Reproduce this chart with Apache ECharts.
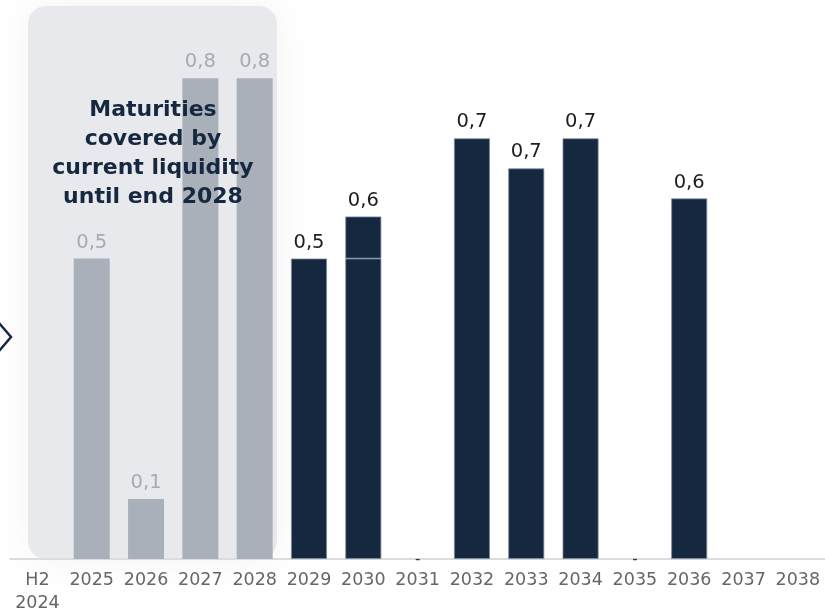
<!DOCTYPE html>
<html>
<head>
<meta charset="utf-8">
<script src="https://cdn.jsdelivr.net/npm/echarts@6/dist/echarts.min.js"></script>
<style>
  html, body { margin: 0; padding: 0; background: #ffffff; }
  #chart { width: 825px; height: 615px; }
</style>
</head>
<body>
<div id="chart"></div>
<script>
// Debt maturities by year (bn)
const categories = ['H2\n2024', '2025', '2026', '2027', '2028', '2029', '2030', '2031',
                    '2032', '2033', '2034', '2035', '2036', '2037', '2038'];
// maturities already covered by current liquidity (until end 2028)
const coveredValues = [null, 0.5, 0.1, 0.8, 0.8, null, null, null, null, null, null, null, null, null, null];
// later maturities
const laterValues   = [null, null, null, null, null, 0.5, 0.5, 0, 0.7, 0.65, 0.7, 0, 0.6, null, null];
// second tranche stacked on 2030
const laterExtra    = [null, null, null, null, null, null, 0.07, null, null, null, null, null, null, null, null];
const boxText = 'Maturities\ncovered by\ncurrent liquidity\nuntil end 2028';

const NAVY = '#15283f';
const GREY_BAR = '#a9b0ba';
const FONT = 'DejaVu Sans';
const LABEL_SIZE = 19.5;

const fmt = v => v.toFixed(1).replace('.', ',');

const coveredData = coveredValues.map(v => v == null ? null : {
  value: v,
  label: { show: true, position: 'top', distance: 6, formatter: fmt(v), color: '#a6abb2', fontSize: LABEL_SIZE, fontFamily: FONT }
});

const laterData = laterValues.map((v, i) => {
  if (v == null) return null;
  if (v === 0) {
    return {
      value: 0,
      itemStyle: { borderWidth: 0, color: 'rgba(0,0,0,0)' },
      label: { show: true, position: 'bottom', distance: 0, offset: [0, -6], formatter: '-', color: '#333', fontSize: 15, fontFamily: FONT }
    };
  }
  const hasExtra = laterExtra[i] != null;
  return {
    value: v,
    label: { show: !hasExtra, position: 'top', distance: 6, formatter: fmt(v), color: '#1e1e1e', fontSize: LABEL_SIZE, fontFamily: FONT }
  };
});

const extraData = laterExtra.map((v, i) => v == null ? null : {
  value: v,
  label: { show: true, position: 'top', distance: 6, formatter: fmt(v + laterValues[i]), color: '#1e1e1e', fontSize: LABEL_SIZE, fontFamily: FONT }
});

const chart = echarts.init(document.getElementById('chart'), null, { renderer: 'canvas' });
chart.setOption({
  animation: false,
  backgroundColor: '#ffffff',
  grid: { left: 10.25, width: 817.5, top: 18.2, bottom: 55 },
  xAxis: {
    type: 'category',
    data: categories,
    axisLine: { show: true, lineStyle: { color: '#dcdcdc', width: 2 } },
    axisTick: { show: false },
    axisLabel: { color: '#666666', fontSize: 17.5, fontFamily: FONT, lineHeight: 23, margin: 10, interval: 0 }
  },
  yAxis: { type: 'value', min: 0, max: 0.9, show: false, splitLine: { show: false } },
  graphic: [
    {
      type: 'rect', z: -10,
      shape: { x: 28, y: 6, width: 249, height: 553, r: 18 },
      style: { fill: '#e8e9ec', shadowBlur: 40, shadowColor: 'rgba(0,0,0,0.05)' }
    },
    {
      type: 'text', z: 100,
      style: {
        x: 153, y: 96, text: boxText, align: 'center', verticalAlign: 'top',
        font: 'bold 22px "DejaVu Sans"', lineHeight: 29, fill: NAVY
      }
    },
    {
      type: 'polyline', z: 100,
      shape: { points: [[-1, 323], [11, 337], [-1, 351]] },
      style: { stroke: NAVY, lineWidth: 2.5, fill: null }
    }
  ],
  series: [
    {
      type: 'bar', name: 'covered', stack: 'a', barWidth: 36,
      data: coveredData,
      itemStyle: { color: GREY_BAR }
    },
    {
      type: 'bar', name: 'later', stack: 'a', barWidth: 36,
      data: laterData,
      itemStyle: { color: NAVY, borderColor: '#7d8ea5', borderWidth: 0.8 }
    },
    {
      type: 'bar', name: 'later extra', stack: 'a', barWidth: 36,
      data: extraData,
      itemStyle: { color: NAVY, borderColor: '#7d8ea5', borderWidth: 0.8 }
    }
  ]
});
</script>
</body>
</html>
